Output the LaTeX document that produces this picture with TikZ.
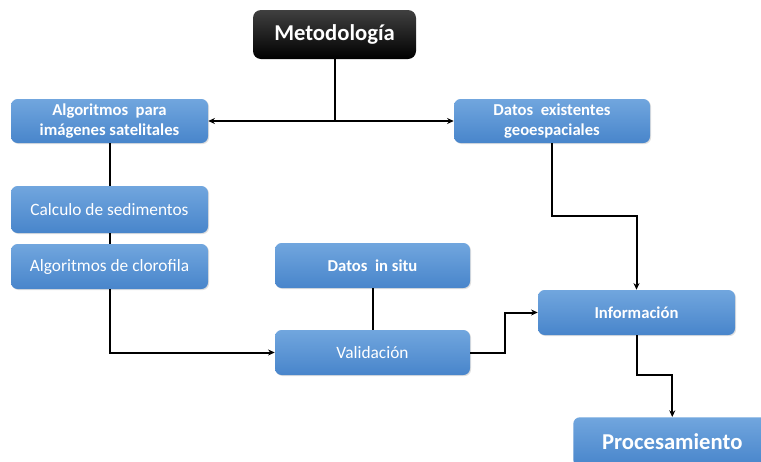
\documentclass[tikz,border=0pt]{standalone}
\usepackage{fontspec}
\setmainfont{Carlito}
\usetikzlibrary{arrows.meta,shadows}
\definecolor{boxtop}{RGB}{113,166,222}
\definecolor{boxbot}{RGB}{72,133,203}
\tikzset{
  bluebox/.style={rounded corners=5pt, top color=boxtop, bottom color=boxbot, draw=none,
    text=white, align=center, inner sep=0pt, font=\fontsize{12.5}{15}\selectfont\bfseries,
    drop shadow={opacity=0.25, shadow xshift=0.8pt, shadow yshift=-0.8pt}},
  plainbox/.style={bluebox, font=\fontsize{13}{15}\selectfont},
  blackbox/.style={rounded corners=6pt, top color=black!75, bottom color=black, draw=none,
    text=white, align=center, inner sep=0pt, font=\fontsize{17}{19}\selectfont\bfseries},
  conn/.style={line width=1.5pt, draw=black},
  arr/.style={conn, -{Stealth[length=5pt,width=4.5pt]}},
  darr/.style={conn, {Stealth[length=5pt,width=4.5pt]}-{Stealth[length=5pt,width=4.5pt]}}
}
\begin{document}
\begin{tikzpicture}[x=0.75pt,y=-0.75pt]
\useasboundingbox[fill=white] (0,0) rectangle (761,461);
\node[blackbox, minimum width=163*0.75pt, minimum height=49*0.75pt] (met) at (334.5,34.5) {Metodología};
\node[bluebox, minimum width=197*0.75pt, minimum height=44*0.75pt] (alg) at (109.5,121) {Algoritmos~~para\\imágenes satelitales};
\node[bluebox, minimum width=196*0.75pt, minimum height=44*0.75pt] (dat) at (552,121) {Datos~~existentes\\geoespaciales};
\node[plainbox, minimum width=197*0.75pt, minimum height=47*0.75pt] (sed) at (109.5,209.5) {Calculo de sedimentos};
\node[plainbox, minimum width=197*0.75pt, minimum height=45*0.75pt] (clo) at (109.5,266.5) {Algoritmos de clorofila};
\node[bluebox, minimum width=195*0.75pt, minimum height=45*0.75pt] (situ) at (372.5,265.5) {Datos~~in situ};
\node[plainbox, minimum width=195*0.75pt, minimum height=45*0.75pt] (val) at (372.5,352.5) {Validación};
\node[bluebox, minimum width=197*0.75pt, minimum height=45*0.75pt] (inf) at (636.5,312.5) {Información};
\node[bluebox, font=\fontsize{17}{19}\selectfont\bfseries, minimum width=198*0.75pt, minimum height=49*0.75pt, anchor=north west] (proc) at (573,417) {Procesamiento};
\coordinate (mj) at (met.south |- alg.east);
\draw[conn] (met.south) -- (mj);
\draw[darr] (alg.east) -- (dat.west);
\draw[conn] (alg.south) -- (sed.north);
\draw[conn] (sed.south) -- (clo.north);
\draw[arr] (clo.south) |- (val.west);
\draw[conn] (situ.south) -- (val.north);
\coordinate (vj) at (505,352.5);
\draw[arr] (val.east) -- (vj) |- (inf.west);
\coordinate (dj) at (552,216);
\draw[arr] (dat.south) -- (dj) -| (inf.north);
\coordinate (ij) at (636.5,375);
\draw[arr] (inf.south) -- (ij) -| (proc.north);
\end{tikzpicture}
\end{document}
